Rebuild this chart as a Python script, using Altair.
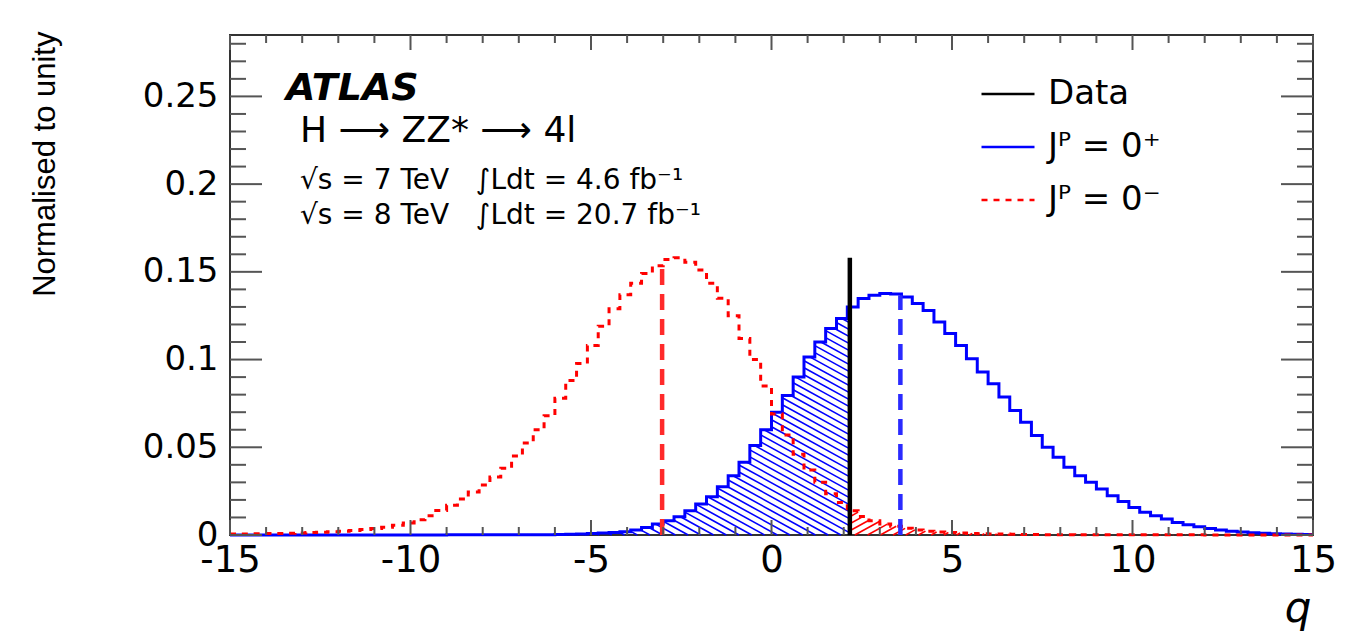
import altair as alt
import numpy as np
import pandas as pd

# ---------------- data ----------------
Q_LO, Q_HI = -15.0, 15.0
N_BINS = 100
Y_TOP = 0.285

# J^P = 0+ histogram (100 bins of width 0.3 from -15 to 15)
blue_0plus = [
    0, 0, 0, 0, 0, 0, 0, 0, 0, 0,
    0, 0, 0, 0, 0, 0, 0, 0, 0, 0,
    0.0001, 0.0001, 0.0001, 0.0001, 0.0001, 0.0001, 0.0001, 0.0001, 0.0002, 0.0002,
    0.0003, 0.0004, 0.0006, 0.0008, 0.0011, 0.0014, 0.0019, 0.0028, 0.0043, 0.0062,
    0.0081, 0.0104, 0.0138, 0.0177, 0.0218, 0.0275, 0.0338, 0.0414, 0.051, 0.060,
    0.070, 0.0795, 0.090, 0.1014, 0.110, 0.1177, 0.1234, 0.130, 0.1348, 0.1367,
    0.1377, 0.1373, 0.1357, 0.132, 0.128, 0.1214, 0.1148, 0.108, 0.1005, 0.0929,
    0.0862, 0.0786, 0.071, 0.0643, 0.0567, 0.050, 0.0443, 0.0386, 0.0338, 0.030,
    0.0262, 0.0224, 0.0191, 0.0157, 0.0129, 0.011, 0.0091, 0.0071, 0.0058, 0.0047,
    0.0037, 0.0028, 0.0022, 0.0017, 0.0013, 0.0010, 0.0007, 0.0005, 0.0004, 0.0003,
]

# J^P = 0- histogram
red_0minus = [
    0.0005, 0.0006, 0.0007, 0.0008, 0.0009, 0.0010, 0.0012, 0.0014, 0.0016, 0.0019,
    0.0022, 0.0026, 0.0031, 0.0037, 0.0044, 0.0055, 0.0068, 0.0087, 0.011, 0.014,
    0.017, 0.0205, 0.0245, 0.0285, 0.033, 0.038, 0.045, 0.0525, 0.060, 0.068,
    0.078, 0.088, 0.0977, 0.108, 0.119, 0.129, 0.137, 0.1435, 0.149, 0.1535,
    0.157, 0.158, 0.1555, 0.151, 0.1435, 0.135, 0.125, 0.112, 0.100, 0.085,
    0.069, 0.057, 0.046, 0.037, 0.030, 0.0235, 0.0185, 0.0138, 0.0105, 0.0081,
    0.0062, 0.0050, 0.0038, 0.0029, 0.0022, 0.0017, 0.0014, 0.0011, 0.0009, 0.0007,
    0.0006, 0.0005, 0.0004, 0.0003, 0.0003, 0.0002, 0.0002, 0.0002, 0.0001, 0.0001,
    0.0001, 0.0001, 0.0001, 0.0001, 0.0001, 0.0001, 0.0001, 0.0001, 0.0001, 0.0001,
    0, 0, 0, 0, 0, 0, 0, 0, 0, 0,
]

data_q = [2.17]
data_top = [0.158]
median_blue_q = [3.57]
median_blue_top = [0.1367]
median_red_q = [-3.03]
median_red_top = [0.1557]

series_names = ["Data", "Jᴾ = 0⁺", "Jᴾ = 0⁻"]
series_colors = ["#000000", "#0000ff", "#ff0000"]

x_major = [-15, -10, -5, 0, 5, 10, 15]
x_minor = [v for v in range(-14, 15) if v % 5 != 0]
y_major = [0, 0.05, 0.1, 0.15, 0.2, 0.25]
y_minor = [round(0.01 * i, 2) for i in range(1, 29) if i % 5 != 0]

NB = "\u00a0"
txt_atlas = "ATLAS"
txt_process = "H ⟶ ZZ* ⟶ 4l"
txt_lumi7 = "√s = 7 TeV" + NB * 3 + "∫Ldt = 4.6 fb⁻¹"
txt_lumi8 = "√s = 8 TeV" + NB * 3 + "∫Ldt = 20.7 fb⁻¹"
txt_ytitle = "Normalised to unity"
txt_xtitle = "q"

# ---------------- layout ----------------
W, H = 1083, 500
PAD = {"left": 230, "top": 35, "right": 49, "bottom": 98}

edges = np.linspace(Q_LO, Q_HI, N_BINS + 1)

rows = []
for name, vals in ((series_names[1], blue_0plus), (series_names[2], red_0minus)):
    for i in range(N_BINS):
        rows.append({"q": edges[i], "v": vals[i], "series": name})
    rows.append({"q": edges[-1], "v": vals[-1], "series": name})
hist = pd.DataFrame(rows)

# ---------------- hatching (derived from histograms) ----------------
px_q = W / (Q_HI - Q_LO)
px_y = H / Y_TOP
HATCH_SLOPE_PX = 0.55
HATCH_GAP_PX = 7.0
kslope = HATCH_SLOPE_PX * px_q / px_y
dc = HATCH_GAP_PX / px_y
qd = data_q[0]


def merge(segs):
    out = []
    for s in segs:
        if out and abs(out[-1][2] - s[0]) < 1e-9:
            out[-1] = (out[-1][0], out[-1][1], s[2], s[3])
        else:
            out.append(s)
    return out


hatch_blue = []
c = -Q_HI * kslope
cmax = max(blue_0plus) + kslope * qd
while c < cmax:
    segs = []
    for j in range(N_BINS):
        a, b = edges[j], min(edges[j + 1], qd)
        if a >= b:
            break
        h = blue_0plus[j]
        if h <= 0:
            continue
        lo = max(a, (c - h) / kslope)
        hi = min(b, c / kslope)
        if hi > lo:
            segs.append((lo, c - kslope * lo, hi, c - kslope * hi))
    hatch_blue.extend(merge(segs))
    c += dc

hatch_red = []
c = -Q_HI * kslope
cmax = max(red_0minus)
while c < cmax:
    segs = []
    for j in range(N_BINS):
        a, b = max(edges[j], qd), edges[j + 1]
        if b <= a:
            continue
        h = red_0minus[j]
        if h <= 0:
            continue
        lo = max(a, -c / kslope)
        hi = min(b, (h - c) / kslope)
        if hi > lo:
            segs.append((lo, c + kslope * lo, hi, c + kslope * hi))
    hatch_red.extend(merge(segs))
    c += dc

hb = pd.DataFrame(hatch_blue, columns=["x1", "y1", "x2", "y2"])
hr = pd.DataFrame(hatch_red, columns=["x1", "y1", "x2", "y2"])

# ---------------- scales / axes ----------------
xs = alt.Scale(domain=[Q_LO, Q_HI], nice=False, zero=False)
ys = alt.Scale(domain=[0, Y_TOP], nice=False, zero=False)

x_axis = alt.Axis(
    values=x_major, ticks=False, domain=False, grid=False,
    labelExpr="toString(datum.value)", labelFont="DejaVu Sans", labelFontSize=37,
    labelColor="#000000", labelPadding=7, labelFlush=False, labelOverlap=False,
    title=txt_xtitle, titleFont="DejaVu Sans", titleFontSize=42, titleFontStyle="italic",
    titleFontWeight="normal", titleColor="#000000", titleAlign="right",
    titleBaseline="alphabetic", titleX=W - 2, titleY=86,
)
y_axis = alt.Axis(
    values=y_major, ticks=False, domain=False, grid=False,
    labelExpr="toString(datum.value)", labelFont="DejaVu Sans", labelFontSize=34,
    labelColor="#000000", labelPadding=12, labelFlush=False, labelOverlap=False,
    title=txt_ytitle, titleFont="Liberation Sans", titleFontSize=31,
    titleFontWeight="normal", titleColor="#000000", titleAngle=270,
    titleAlign="right", titleBaseline="top", titleX=-200, titleY=-4,
)

legend = alt.Legend(
    orient="none", legendX=750, legendY=31, title=None,
    symbolType="stroke", symbolSize=2809, symbolStrokeWidth=2.5,
    labelFont="DejaVu Sans", labelFontSize=34, labelColor="#000000",
    labelOffset=12, rowPadding=8, padding=0, labelLimit=400,
)
color_scale = alt.Scale(domain=series_names, range=series_colors)
dash_scale = alt.Scale(domain=series_names, range=[[1, 0], [1, 0], [6, 6]])


def X(f):
    return alt.X(f, type="quantitative", scale=xs, axis=x_axis)


def Y(f):
    return alt.Y(f, type="quantitative", scale=ys, axis=y_axis)


layers = []

# hatching
layers.append(
    alt.Chart(hb).mark_rule(color="#0000ff", strokeWidth=1.6).encode(
        x=X("x1"), x2="x2", y=Y("y1"), y2="y2")
)
layers.append(
    alt.Chart(hr).mark_rule(color="#ff0000", strokeWidth=1.6).encode(
        x=X("x1"), x2="x2", y=Y("y1"), y2="y2")
)

# histograms
layers.append(
    alt.Chart(hist).mark_line(interpolate="step-after", strokeWidth=3).encode(
        x=X("q"), y=Y("v"),
        color=alt.Color("series:N", scale=color_scale, legend=legend),
        strokeDash=alt.StrokeDash("series:N", scale=dash_scale, legend=legend),
    )
)

# median lines
mb = pd.DataFrame({"q": median_blue_q, "y0": [0.0], "top": median_blue_top})
mr = pd.DataFrame({"q": median_red_q, "y0": [0.0], "top": median_red_top})
layers.append(alt.Chart(mb).mark_rule(color="#2a2aff", strokeWidth=4.5, strokeDash=[16, 9]).encode(
    x=X("q"), y=Y("y0"), y2="top"))
layers.append(alt.Chart(mr).mark_rule(color="#ff2a2a", strokeWidth=4.5, strokeDash=[16, 9]).encode(
    x=X("q"), y=Y("y0"), y2="top"))

# data line
dd = pd.DataFrame({"q": data_q, "y0": [0.0], "top": data_top, "series": [series_names[0]]})
layers.append(
    alt.Chart(dd).mark_rule(strokeWidth=4.5).encode(
        x=X("q"), y=Y("y0"), y2="top",
        color=alt.Color("series:N", scale=color_scale, legend=legend),
        strokeDash=alt.StrokeDash("series:N", scale=dash_scale, legend=legend),
    )
)

# inward ticks on all four sides
TICK_COLOR = "#555555"
xmj = pd.DataFrame({"q": x_major})
xmn = pd.DataFrame({"q": x_minor})
ymj = pd.DataFrame({"v": y_major})
ymn = pd.DataFrame({"v": y_minor})
for df, ln in ((xmj, 15), (xmn, 8)):
    layers.append(alt.Chart(df).mark_rule(color=TICK_COLOR, strokeWidth=2).encode(
        x=X("q"), y=alt.value(H), y2=alt.value(H - ln)))
    layers.append(alt.Chart(df).mark_rule(color=TICK_COLOR, strokeWidth=2).encode(
        x=X("q"), y=alt.value(0), y2=alt.value(ln)))
for df, ln in ((ymj, 32), (ymn, 16)):
    layers.append(alt.Chart(df).mark_rule(color=TICK_COLOR, strokeWidth=2).encode(
        y=Y("v"), x=alt.value(0), x2=alt.value(ln)))
    layers.append(alt.Chart(df).mark_rule(color=TICK_COLOR, strokeWidth=2).encode(
        y=Y("v"), x=alt.value(W), x2=alt.value(W - ln)))


# annotations
def text_layer(s, x, y, size, **kw):
    return alt.Chart(pd.DataFrame({"t": [s]})).mark_text(
        align="left", baseline="alphabetic", fontSize=size, font="DejaVu Sans",
        color="#000000", **kw).encode(x=alt.value(x), y=alt.value(y), text="t:N")


layers.append(text_layer(txt_atlas, 56, 65, 38, fontWeight="bold", fontStyle="italic"))
layers.append(text_layer(txt_process, 70, 107, 36))
layers.append(text_layer(txt_lumi7, 70, 154, 28))
layers.append(text_layer(txt_lumi8, 70, 189, 28))

chart = alt.layer(*layers).properties(
    width=W, height=H,
    autosize=alt.AutoSizeParams(type="none"),
    padding=PAD,
    background="white",
).configure_view(stroke="#333333", strokeWidth=2)

chart.save("out.html", embed_options={"renderer": "svg", "actions": False})
